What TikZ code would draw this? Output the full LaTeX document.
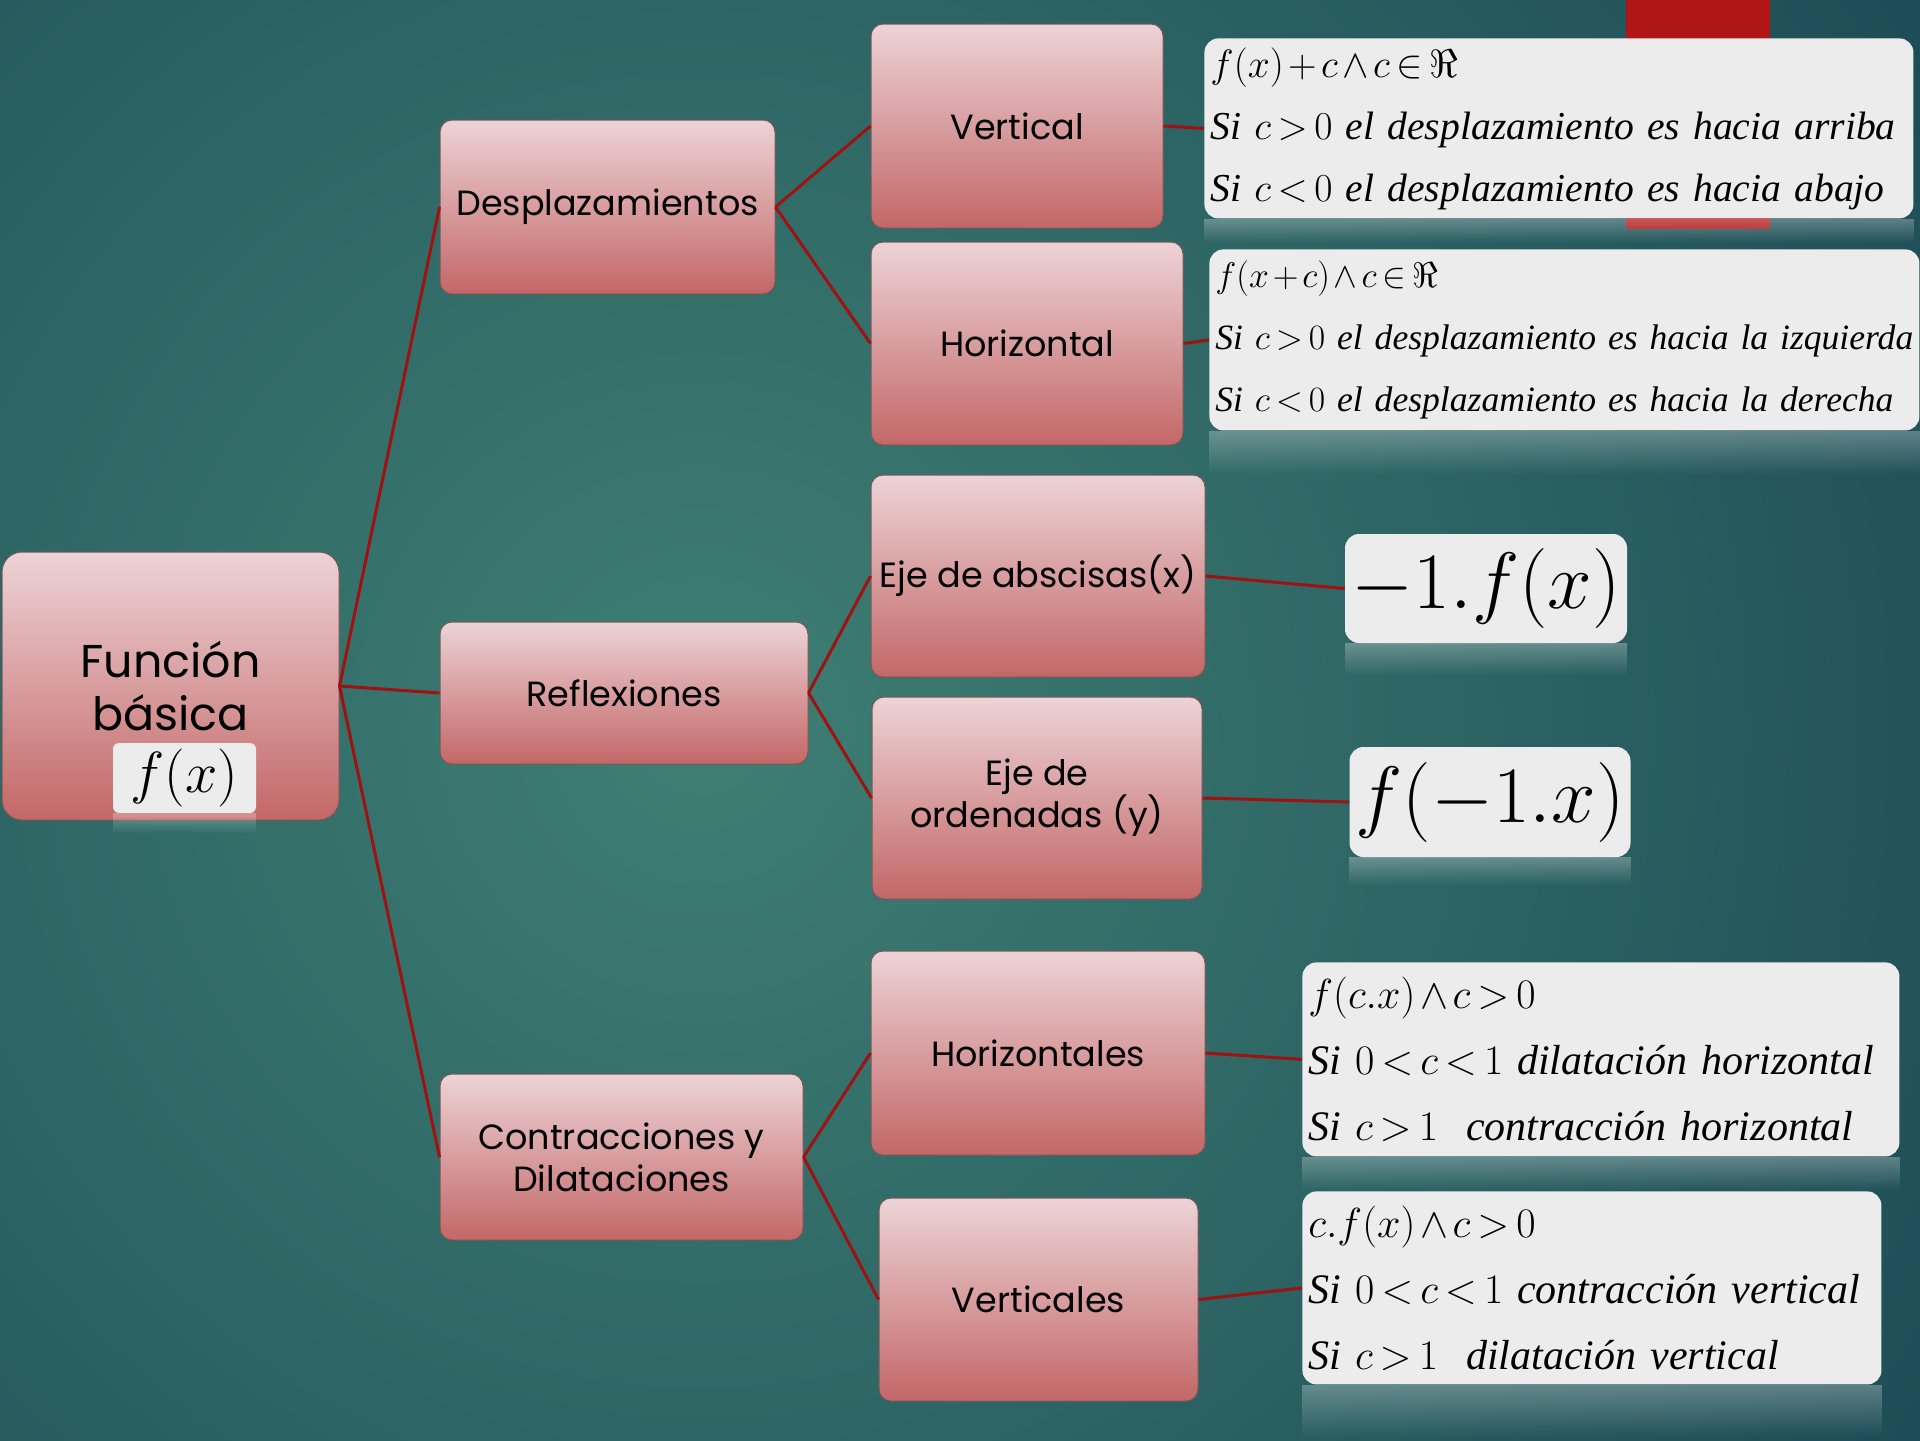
\RequirePackage{fix-cm}
\documentclass[tikz,border=0pt]{standalone}
\usepackage{fontspec}
\setmainfont{Poppins}
\newfontfamily\formfont{Liberation Serif}
\usetikzlibrary{positioning, calc, fadings}

\definecolor{bgdark}{HTML}{10364A}
\definecolor{bglight}{HTML}{3E7F73}
\definecolor{boxtop}{HTML}{EDD3D6}
\definecolor{boxbot}{HTML}{C36767}
\definecolor{boxline}{HTML}{7A5656}
\definecolor{linkred}{HTML}{9E1212}
\definecolor{barred}{HTML}{B11616}
\definecolor{paper}{HTML}{ECECEC}

\newcommand{\tightmath}{\thickmuskip=3mu\medmuskip=2mu\hyphenpenalty=10000}

\begin{document}
\begin{tikzpicture}[
    x=0.5pt, y=-0.5pt,
    base/.style={align=center, inner sep=3pt},
    topic/.style={base, rectangle, rounded corners=6pt, draw=boxline, line width=0.5pt, top color=boxtop, bottom color=boxbot, text=black, font=\fontsize{17.5}{21}\selectfont},
    formula/.style={base, rectangle, rounded corners=7pt, fill=paper, align=left, anchor=north west, inner xsep=3pt, font=\formfont\itshape\fontsize{17.8}{31}\selectfont\tightmath},
    bigformula/.style={base, rectangle, rounded corners=7pt, fill=paper, font=\fontsize{40}{42}\selectfont},
    link/.style={draw=linkred, line width=1.5pt},
    mirror/.style={fill=white, opacity=0.28, path fading=south}
  ]
    \useasboundingbox (0,0) rectangle (1920,1440);
    \begin{scope}
      \clip (0,0) rectangle (1920,1440);
      \fill[bgdark] (0,0) rectangle (1920,1440);
      \shade[inner color=bglight, outer color=bgdark] (700,730) circle (1020pt);
    \end{scope}
    \fill[barred] (1626,0) rectangle (1770,229);

    \node[topic, minimum width=168.5pt, minimum height=134pt, rounded corners=10pt, font=\fontsize{23}{26.5}\selectfont] (fun) at (170.5,686) {Función\\básica};
    \node[base, rounded corners=3pt, fill=paper, minimum width=71.5pt, minimum height=31pt, font=\fontsize{29}{30}\selectfont] (fx) at (184.5,778) {$f(x)$};

    \node[topic, minimum width=167.5pt, minimum height=87pt] (desp) at (607.5,207) {Desplazamientos};
    \node[topic, minimum width=184pt, minimum height=71pt] (refl) at (624,693) {Reflexiones};
    \node[topic, minimum width=181.5pt, minimum height=83pt] (contr) at (621.5,1157) {Contracciones y\\Dilataciones};

    \node[topic, minimum width=146pt, minimum height=102pt] (vert) at (1017,126) {Vertical};
    \node[topic, minimum width=156pt, minimum height=101.5pt] (horiz) at (1027,343.5) {Horizontal};
    \node[topic, minimum width=167pt, minimum height=101pt] (absc) at (1038,576) {Eje de abscisas(x)};
    \node[topic, minimum width=165pt, minimum height=101pt] (orden) at (1037,798) {Eje de\\ordenadas (y)};
    \node[topic, minimum width=167pt, minimum height=102pt] (horizs) at (1038,1053) {Horizontales};
    \node[topic, minimum width=159.5pt, minimum height=101.5pt] (verts) at (1038.5,1299.5) {Verticales};

    \node[formula, text width=348.5pt, minimum height=90pt, font=\formfont\itshape\fontsize{19.8}{31}\selectfont\tightmath] (f1) at (1204,38)
    {$f(x)+c\wedge c\in\Re$\\
     Si $c>0$ el desplazamiento es hacia arriba\\
     Si $c<0$ el desplazamiento es hacia abajo};
    \node[formula, text width=349pt, minimum height=90.5pt] (f2) at (1209,249)
    {$f(x+c)\wedge c\in\Re$\\
     Si $c>0$ el desplazamiento es hacia la izquierda\\
     Si $c<0$ el desplazamiento es hacia la derecha};
    \node[bigformula, minimum width=141pt, minimum height=54.5pt] (f3) at (1486,588.5) {$-1.f(x)$};
    \node[bigformula, minimum width=137pt, minimum height=55pt] (f4) at (1490,802) {$f(-1.x)$};
    \node[formula, text width=292.5pt, minimum height=97pt, font=\formfont\itshape\fontsize{21}{33}\selectfont\tightmath] (f5) at (1302,962)
    {$f(c.x)\wedge c>0$\\
     Si $0<c<1$ dilatación horizontal\\
     Si $c>1$\ \ contracción horizontal};
    \node[formula, text width=283.5pt, minimum height=96.5pt, font=\formfont\itshape\fontsize{21}{33}\selectfont\tightmath] (f6) at (1302,1191)
    {$c.f(x)\wedge c>0$\\
     Si $0<c<1$ contracción vertical\\
     Si $c>1$\ \ dilatación vertical};

    \foreach \n/\h in {fx/10, f1/12, f2/22, f3/16, f4/14, f5/17, f6/26}
      \fill[mirror] (\n.south west) rectangle ([yshift=-\h pt]\n.south east);

    \draw[link] (fun.east) -- (desp.west);
    \draw[link] (fun.east) -- (refl.west);
    \draw[link] (fun.east) -- (contr.west);
    \draw[link] (desp.east) -- (vert.west);
    \draw[link] (desp.east) -- (horiz.west);
    \draw[link] (refl.east) -- (absc.west);
    \draw[link] (refl.east) -- (orden.west);
    \draw[link] (contr.east) -- (horizs.west);
    \draw[link] (contr.east) -- (verts.west);
    \draw[link] (vert.east) -- (f1.west);
    \draw[link] (horiz.east) -- (f2.west);
    \draw[link] (absc.east) -- (f3.west);
    \draw[link] (orden.east) -- (f4.west);
    \draw[link] (horizs.east) -- (f5.west);
    \draw[link] (verts.east) -- (f6.west);
  \end{tikzpicture}
\end{document}
